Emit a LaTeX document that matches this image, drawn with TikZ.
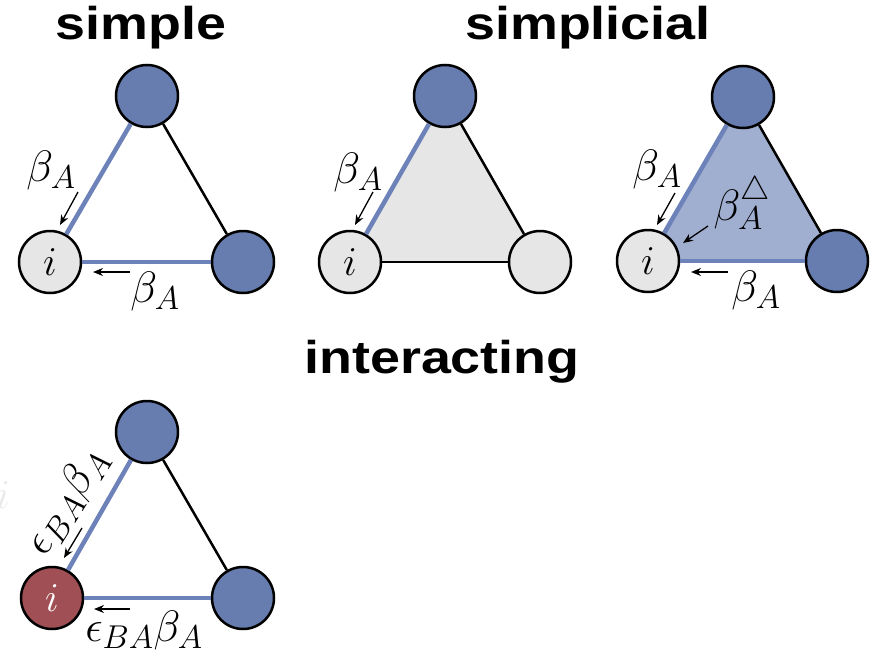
\RequirePackage{fix-cm}
\documentclass[tikz,border=0pt]{standalone}
\usepackage{fontspec}
\usepackage{graphicx}
\usetikzlibrary{arrows.meta,backgrounds}
\newfontfamily\titlefont{Liberation Sans}
\DeclareMathSizes{41}{41}{29}{21}
\DeclareMathSizes{44}{44}{33}{24}
\definecolor{nodeblue}{RGB}{103,125,176}
\definecolor{edgeblue}{RGB}{108,130,184}
\definecolor{lgray}{RGB}{230,230,230}
\definecolor{trifill}{RGB}{160,174,208}
\definecolor{nodered}{RGB}{160,80,85}
\tikzset{
  vtx/.style={circle,draw=black,line width=2.5pt,minimum size=62pt,inner sep=0pt,
    font=\fontsize{41}{48}\selectfont},
  bluev/.style={vtx,fill=nodeblue},
  grayv/.style={vtx,fill=lgray},
  redv/.style={vtx,fill=nodered,text=white},
  bedge/.style={draw=edgeblue,line width=4.5pt},
  kedge/.style={draw=black,line width=2.5pt},
  lbl/.style={inner sep=0pt,font=\fontsize{44}{50}\selectfont},
  ttl/.style={inner sep=0pt,anchor=base,font=\titlefont\bfseries\fontsize{46}{52}\selectfont},
  ptr/.style={draw=black,line width=1.3pt,-{Stealth[length=10pt,width=8pt]}}
}
\begin{document}
\begin{tikzpicture}[x=1pt,y=-1pt]
\useasboundingbox (0,0) rectangle (870,653);
% titles
\node[ttl] (t1) at (141,39) {\scalebox{1.17}[1]{simple}};
\node[ttl] (t2) at (588,39) {\scalebox{1.17}[1]{simplicial}};
\node[ttl] (t3) at (442,373) {\scalebox{1.17}[1]{interacting}};
% faint i
\node[vtx,draw=none,text=black!9] (fi) at (3,495) {$i$};
% panel 1
\node[bluev] (T1) at (147,96) {};
\node[grayv] (I1) at (50,262) {$i$};
\node[bluev] (R1) at (243,262) {};
\draw[bedge] (I1) -- (T1);
\draw[bedge] (I1) -- (R1);
\draw[kedge] (T1) -- (R1);
\node[lbl] (L1a) at (51,170) {$\beta_A$};
\node[lbl] (L1b) at (155,291) {$\beta_A$};
\coordinate (a1s) at (78,192); \coordinate (a1e) at (60,225);
\coordinate (b1s) at (130,272); \coordinate (b1e) at (93,272);
\draw[ptr] (a1s) -- (a1e);
\draw[ptr] (b1s) -- (b1e);
% panel 2
\node[bluev] (T2) at (445,96) {};
\node[grayv] (I2) at (350,262) {$i$};
\node[grayv] (R2) at (540,262) {};
\begin{scope}[on background layer]
\fill[lgray] (I2.center) -- (T2.center) -- (R2.center) -- cycle;
\end{scope}
\draw[bedge] (I2) -- (T2);
\draw[kedge] (I2) -- (R2);
\draw[kedge] (T2) -- (R2);
\node[lbl] (L2a) at (358,172) {$\beta_A$};
\coordinate (a2s) at (373,192); \coordinate (a2e) at (355,225);
\draw[ptr] (a2s) -- (a2e);
% panel 3
\node[bluev] (T3) at (743,97) {};
\node[grayv] (I3) at (648,261) {$i$};
\node[bluev] (R3) at (837,261) {};
\begin{scope}[on background layer]
\fill[trifill] (I3.center) -- (T3.center) -- (R3.center) -- cycle;
\end{scope}
\draw[bedge] (I3) -- (T3);
\draw[bedge] (I3) -- (R3);
\draw[kedge] (T3) -- (R3);
\node[lbl] (L3a) at (657,169) {$\beta_A$};
\node[lbl] (L3t) at (742,203) {$\beta^{\triangle}_A$};
\node[lbl] (L3b) at (756,290) {$\beta_A$};
\coordinate (a3s) at (675,193); \coordinate (a3e) at (657,225);
\coordinate (c3s) at (708,226); \coordinate (c3e) at (683,243);
\coordinate (b3s) at (728,272); \coordinate (b3e) at (691,272);
\draw[ptr] (a3s) -- (a3e);
\draw[ptr] (c3s) -- (c3e);
\draw[ptr] (b3s) -- (b3e);
% panel 4
\node[bluev] (T4) at (147,432) {};
\node[redv] (I4) at (52,598) {$i$};
\node[bluev] (R4) at (243,598) {};
\draw[bedge] (I4) -- (T4);
\draw[bedge] (I4) -- (R4);
\draw[kedge] (T4) -- (R4);
\node[lbl,rotate=58] (L4a) at (67,502) {$\epsilon_{BA}\beta_A$};
\node[lbl] (L4b) at (144,630) {$\epsilon_{BA}\beta_A$};
\coordinate (a4s) at (82,528); \coordinate (a4e) at (64,558);
\coordinate (b4s) at (130,609); \coordinate (b4e) at (94,609);
\draw[ptr] (a4s) -- (a4e);
\draw[ptr] (b4s) -- (b4e);
\end{tikzpicture}
\end{document}
